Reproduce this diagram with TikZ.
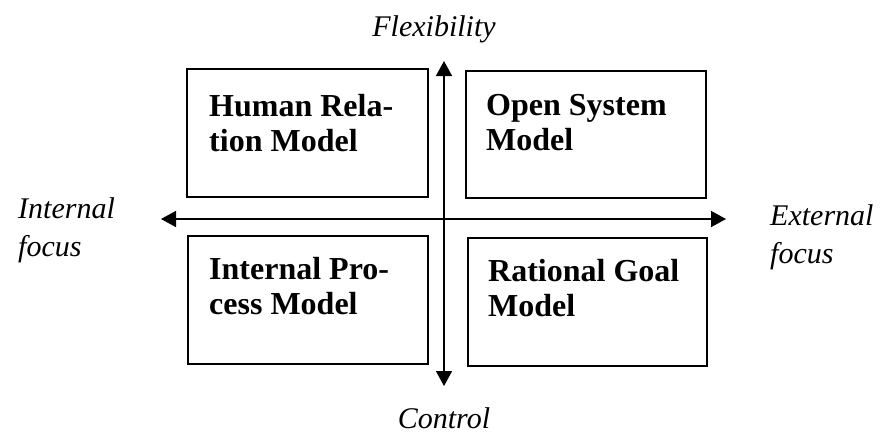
\documentclass[tikz,border=0pt]{standalone}
\usepackage{fontspec}
\setmainfont{Liberation Serif}
\usetikzlibrary{arrows.meta}
\tikzset{
  modelbox/.style={draw=black, line width=2pt, minimum width=#1, inner sep=0pt},
  boxtext/.style={anchor=north west, inner sep=0pt, align=left, font=\fontsize{32}{35}\selectfont\bfseries},
  axislabel/.style={inner sep=0pt, align=left, font=\fontsize{30}{38}\selectfont\itshape},
  axis/.style={line width=1.6pt, {Triangle[width=16pt,length=15pt]}-{Triangle[width=16pt,length=15pt]}}
}
\begin{document}
\begin{tikzpicture}[x=1pt,y=-1pt]
\useasboundingbox (0,0) rectangle (882,437);
% boxes
\node[modelbox=241pt, minimum height=128pt] (hr) at (307.5,133) {};
\node[modelbox=240pt, minimum height=127pt] (os) at (586,134.5) {};
\node[modelbox=240pt, minimum height=128pt] (ip) at (308,300) {};
\node[modelbox=239pt, minimum height=128pt] (rg) at (587.5,302) {};
% box texts
\node[boxtext] (hrt) at (209,94.5) {Human Rela-\\tion Model};
\node[boxtext] (ost) at (486,94.5) {Open System\\Model};
\node[boxtext] (ipt) at (209,257.5) {Internal Pro-\\cess Model};
\node[boxtext] (rgt) at (488,259.5) {Rational Goal\\Model};
% axes
\coordinate (L) at (161,219);
\coordinate (R) at (726,219);
\coordinate (T) at (444,61);
\coordinate (B) at (444,386);
\draw[axis] (L) -- (R);
\draw[axis] (B) -- (T);
% axis labels
\node[axislabel, anchor=base] (flex) at (434,36) {Flexibility};
\node[axislabel, anchor=base] (ctrl) at (444,428) {Control};
\node[axislabel, anchor=north west] (intf) at (18,197.5) {Internal\\focus};
\node[axislabel, anchor=north west] (extf) at (770,204.5) {External\\focus};
\end{tikzpicture}
\end{document}
